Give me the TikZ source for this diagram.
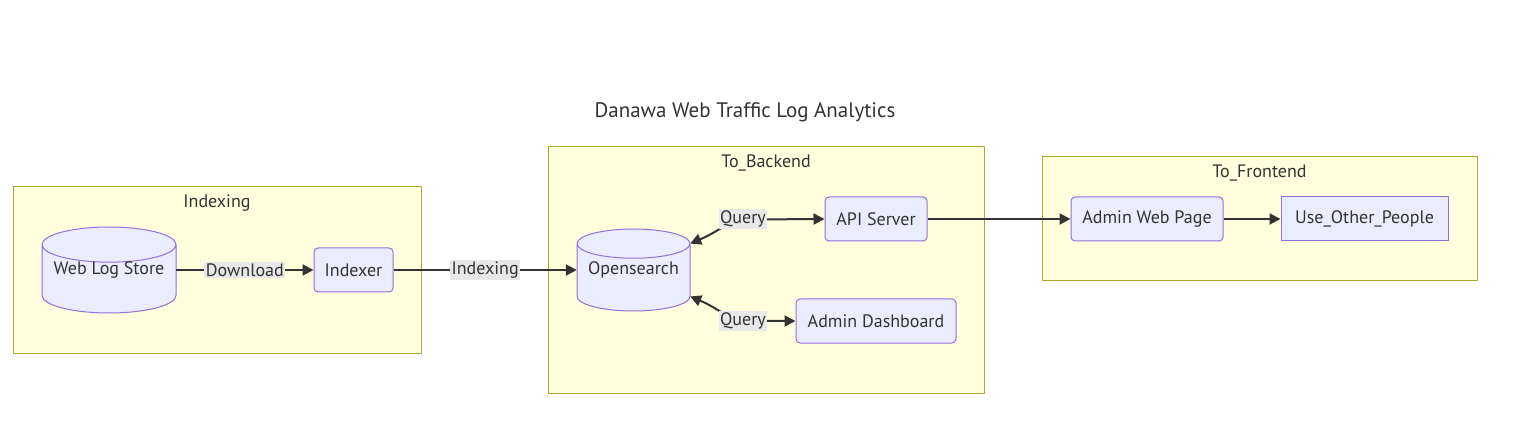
\documentclass[tikz,border=0pt]{standalone}
\usepackage{fontspec}
\setmainfont{PT Sans}
\usetikzlibrary{shapes.geometric,arrows.meta}
\definecolor{clfill}{HTML}{FFFFDE}
\definecolor{clline}{HTML}{AAAA33}
\definecolor{ndfill}{HTML}{ECECFF}
\definecolor{ndline}{HTML}{9370DB}
\definecolor{lbfill}{HTML}{E8E8E8}
\definecolor{edg}{HTML}{333333}
\definecolor{txt}{HTML}{333333}
\begin{document}
\begin{tikzpicture}[x=1pt, y=-1pt, font=\fontsize{18}{21}\selectfont, line join=round, >={Triangle[length=11pt,width=11pt]},
  cluster/.style={draw=clline, fill=clfill, line width=1pt, inner sep=0pt},
  box/.style={draw=ndline, fill=ndfill, line width=1pt, rounded corners=4pt, minimum height=44, text=txt},
  db/.style={cylinder, shape border rotate=90, aspect=0.3, anchor=shape center, draw=ndline, fill=ndfill, line width=1pt},
  dbtext/.style={text=txt, inner sep=0pt},
  lbl/.style={fill=lbfill, inner sep=1.5pt, text=txt},
  edge/.style={->, draw=edg, line width=2pt}]
\useasboundingbox (0,0) rectangle (1530,443);
\node[text=txt, font=\fontsize{21}{24}\selectfont] (title) at (745,112) {Danawa Web Traffic Log Analytics};
\node[cluster, minimum width=408, minimum height=166] (cidx) at (217,270) {};
\node[cluster, minimum width=436, minimum height=246] (cback) at (766,270) {};
\node[cluster, minimum width=435, minimum height=124] (cfront) at (1259.5,219) {};
\node[text=txt, anchor=north] (tidx) at ([yshift=-5pt]cidx.north) {Indexing};
\node[text=txt, anchor=north] (tback) at ([yshift=-5pt]cback.north) {To\_Backend};
\node[text=txt, anchor=north] (tfront) at ([yshift=-5pt]cfront.north) {To\_Frontend};
\node[db, minimum width=134, minimum height=86] (wlsdb) at (109,270) {\phantom{Web Log Store}};
\node[dbtext, minimum width=134, minimum height=86] (wls) at (109,270) {Web Log Store};
\node[db, minimum width=113, minimum height=82] (osdb) at (633.5,270) {\phantom{Opensearch}};
\node[dbtext, minimum width=113, minimum height=82] (os) at (633.5,270) {Opensearch};
\node[box, minimum width=79] (idxr) at (353.5,270) {Indexer};
\node[box, minimum width=102] (api) at (876,219) {API Server};
\node[box, minimum width=160] (dash) at (876,321) {Admin Dashboard};
\node[box, minimum width=152] (web) at (1147,219) {Admin Web Page};
\node[box, rounded corners=0pt, minimum width=167] (use) at (1364.5,219) {Use\_Other\_People};
\draw[edge] (wls) -- node[lbl] (ldl) {Download} (idxr);
\draw[edge] (idxr) -- node[lbl] (lix) {Indexing} (os);
\draw[edge,<->] (os.25) .. controls (720,231) and (728,220) .. (750,219.5) -- (api.west);
\draw[edge,<->] (os.-25) .. controls (720,309) and (728,320.5) .. (750,321) -- (dash.west);
\node[lbl] (lq1) at (743,219) {Query};
\node[lbl] (lq2) at (743,321) {Query};
\draw[edge] (api) -- (web);
\draw[edge] (web) -- (use);
\end{tikzpicture}
\end{document}
